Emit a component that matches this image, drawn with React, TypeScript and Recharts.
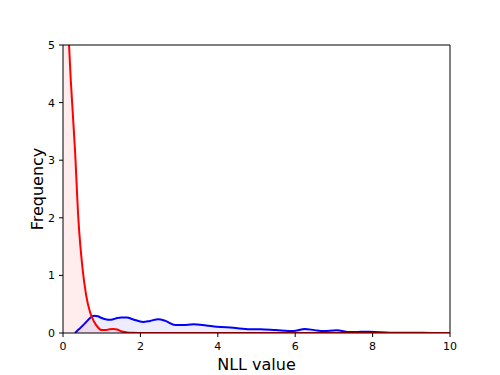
import { ComposedChart, Area, XAxis, YAxis, ReferenceLine } from "recharts"

const nll = [
  0, 0.1, 0.2, 0.31, 0.4, 0.5, 0.6, 0.7, 0.8, 0.9, 1.0, 1.1, 1.2, 1.3, 1.4, 1.5, 1.65, 1.8, 2.07, 2.25, 2.46,
  2.65, 2.9, 3.1, 3.37, 3.7, 3.97, 4.4, 4.83, 5.1, 5.5, 5.95, 6.25, 6.5, 6.73, 7.07, 7.42, 7.7, 7.93, 8.45, 9,
  9.5, 10,
]

const redDensity = [
  7.2, 5.8, 4.4, 3.18, 1.95, 1.15, 0.65, 0.36, 0.2, 0.1, 0.05, 0.05, 0.065, 0.07, 0.06, 0.03, 0.01, 0.003, 0, 0,
  0, 0, 0, 0, 0, 0, 0, 0, 0, 0, 0, 0, 0, 0, 0, 0, 0, 0, 0, 0, 0, 0, 0,
]

const blueDensity = [
  null, null, null, 0, 0.06, 0.12, 0.19, 0.26, 0.3, 0.29, 0.26, 0.24, 0.23, 0.24, 0.26, 0.27, 0.27, 0.24, 0.19,
  0.21, 0.24, 0.21, 0.14, 0.14, 0.15, 0.13, 0.11, 0.09, 0.065, 0.064, 0.05, 0.035, 0.07, 0.05, 0.035, 0.047,
  0.017, 0.02, 0.023, 0.005, 0.003, 0.002, 0,
]

const xTicks = [0, 2, 4, 6, 8, 10]
const yTicks = [0, 1, 2, 3, 4, 5]

const data = nll.map((x, i) => ({ x, red: redDensity[i], blue: blueDensity[i] }))

const font = "DejaVu Sans"

// rotated y label, centred on the plot's vertical middle
function YLabel(props: any) {
  const vb = props.viewBox || {}
  const cx = 37
  const cy = (vb.y ?? 45) + (vb.height ?? 288) / 2
  return (
    <text
      x={cx}
      y={cy}
      transform={`rotate(-90, ${cx}, ${cy})`}
      textAnchor="middle"
      dominantBaseline="central"
      fill="#000"
      fontSize={16}
      fontFamily={font}
    >
      Frequency
    </text>
  )
}

export default function App() {
  return (
    <div style={{ position: "absolute", left: 0, top: 0, background: "#fff" }}>
      <ComposedChart width={500} height={375} data={data} margin={{ top: 45, right: 50, left: 0, bottom: 0 }}>
        <XAxis
          dataKey="x"
          type="number"
          domain={[0, 10]}
          ticks={xTicks}
          height={42}
          stroke="#000"
          tickSize={4}
          tickMargin={5}
          tick={{ fill: "#000", fontSize: 11, fontFamily: font }}
          label={{ value: "NLL value", position: "insideBottom", offset: 5, fill: "#000", fontSize: 16, fontFamily: font }}
        />
        <YAxis
          type="number"
          domain={[0, 5]}
          ticks={yTicks}
          allowDataOverflow
          width={63}
          stroke="#000"
          tickSize={4}
          tickMargin={4}
          tick={{ fill: "#000", fontSize: 11, fontFamily: font }}
          label={<YLabel />}
        />
        <ReferenceLine y={5} stroke="#000" />
        <ReferenceLine x={10} stroke="#000" />
        <Area
          dataKey="blue"
          type="monotone"
          stroke="#0000ff"
          strokeWidth={2}
          fill="#0000ff"
          fillOpacity={0.07}
          isAnimationActive={false}
        />
        <Area
          dataKey="red"
          type="monotone"
          stroke="#ff0000"
          strokeWidth={2}
          fill="#ff0000"
          fillOpacity={0.07}
          isAnimationActive={false}
        />
      </ComposedChart>
    </div>
  )
}
